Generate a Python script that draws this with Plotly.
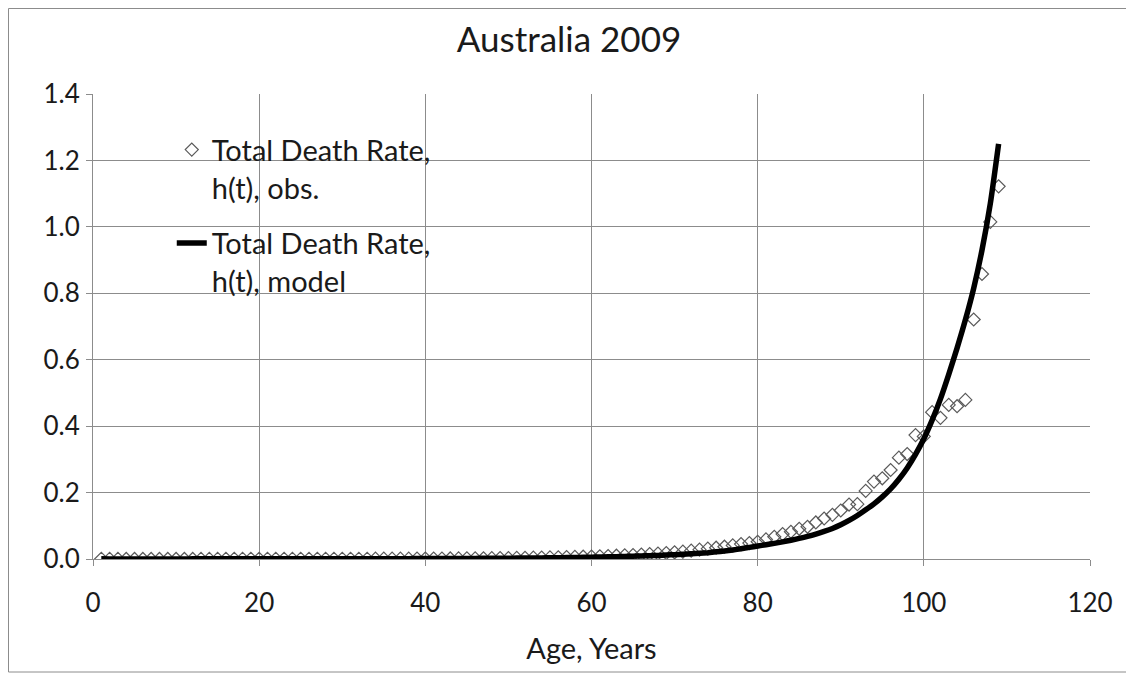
import plotly.graph_objects as go

ages = list(range(1, 110))

obs_rate = [
    0.0005, 0.0003, 0.0002, 0.0001, 0.0001, 0.0001, 0.0001, 0.0001, 0.0001, 0.0001,
    0.0001, 0.0001, 0.0002, 0.0002, 0.0003, 0.0004, 0.0005, 0.0006, 0.0006, 0.0006,
    0.0006, 0.0006, 0.0006, 0.0006, 0.0007, 0.0007, 0.0007, 0.0007, 0.0007, 0.0007,
    0.0008, 0.0008, 0.0008, 0.0009, 0.0009, 0.0010, 0.0011, 0.0011, 0.0012, 0.0013,
    0.0014, 0.0015, 0.0016, 0.0018, 0.0020, 0.0021, 0.0023, 0.0025, 0.0028, 0.0030,
    0.0033, 0.0036, 0.0040, 0.0044, 0.0048, 0.0052, 0.0057, 0.0063, 0.0069, 0.0075,
    0.0082, 0.0090, 0.0099, 0.0110, 0.0120, 0.0133, 0.0147, 0.0163, 0.0180, 0.0200,
    0.0220, 0.0250, 0.0280, 0.0310, 0.0340, 0.0370, 0.0410, 0.0450, 0.0480, 0.0520,
    0.0590, 0.0670, 0.0750, 0.0820, 0.0910, 0.0970, 0.1100, 0.1220, 0.1330, 0.1460,
    0.1640, 0.1650, 0.2050, 0.2330, 0.2430, 0.2680, 0.3050, 0.3160, 0.3730, 0.3690,
    0.4420, 0.4250, 0.4640, 0.4600, 0.4790, 0.7210, 0.8580, 1.0150, 1.1220,
]

model_rate = [
    0.0004, 0.0003, 0.0003, 0.0003, 0.0003, 0.0003, 0.0003, 0.0003, 0.0003, 0.0003,
    0.0003, 0.0004, 0.0004, 0.0004, 0.0005, 0.0005, 0.0005, 0.0005, 0.0005, 0.0005,
    0.0006, 0.0006, 0.0006, 0.0006, 0.0006, 0.0006, 0.0007, 0.0007, 0.0007, 0.0007,
    0.0008, 0.0008, 0.0008, 0.0009, 0.0009, 0.0010, 0.0010, 0.0011, 0.0012, 0.0012,
    0.0013, 0.0014, 0.0015, 0.0016, 0.0017, 0.0018, 0.0020, 0.0021, 0.0023, 0.0025,
    0.0027, 0.0029, 0.0031, 0.0033, 0.0036, 0.0039, 0.0042, 0.0046, 0.0050, 0.0055,
    0.0060, 0.0065, 0.0071, 0.0077, 0.0084, 0.0092, 0.0100, 0.0109, 0.0119, 0.0130,
    0.0142, 0.0155, 0.0172, 0.0190, 0.0215, 0.0240, 0.0272, 0.0310, 0.0350, 0.0390,
    0.0430, 0.0470, 0.0515, 0.0565, 0.0620, 0.0680, 0.0750, 0.0830, 0.0920, 0.1030,
    0.1160, 0.1310, 0.1480, 0.1660, 0.1870, 0.2110, 0.2400, 0.2740, 0.3150, 0.3620,
    0.4180, 0.4820, 0.5560, 0.6350, 0.7200, 0.8150, 0.9300, 1.0700, 1.2500,
]

x_ticks = [0, 20, 40, 60, 80, 100, 120]
y_ticks = [0.0, 0.2, 0.4, 0.6, 0.8, 1.0, 1.2, 1.4]

title_text = "Australia 2009"
x_title = "Age, Years"
obs_name = "Total Death Rate,<br>h(t), obs."
model_name = "Total Death Rate,<br>h(t), model"

FONT = "Lato"
GRID = "#8c8c8c"

fig = go.Figure()
fig.add_trace(go.Scatter(
    x=ages, y=obs_rate, mode="markers", name=obs_name, legendgroup="a",
    marker=dict(symbol="diamond-open", size=10, color="#5a5a5a", line=dict(width=1.2)),
))
fig.add_trace(go.Scatter(
    x=ages, y=model_rate, mode="lines", name=model_name, legendgroup="b",
    line=dict(color="black", width=5.5, shape="spline", smoothing=0.6),
))

fig.update_layout(
    width=1134, height=678,
    margin=dict(l=85, r=52, t=86, b=127),
    paper_bgcolor="white", plot_bgcolor="white",
    font=dict(family=FONT, size=26, color="#1a1a1a"),
    title=dict(text=title_text, x=561 / 1134, xref="container", xanchor="center",
               y=1 - 32 / 678, yref="container", yanchor="middle",
               font=dict(family=FONT, size=35, color="#1a1a1a")),
    showlegend=True,
    legend=dict(x=0.079, y=0.935, xanchor="left", yanchor="top",
                bgcolor="rgba(0,0,0,0)", valign="top", tracegroupgap=15,
                font=dict(family=FONT, size=29, color="#1a1a1a")),
    xaxis=dict(range=[0, 120], tickvals=x_ticks, ticktext=[str(v) for v in x_ticks],
               showgrid=True, gridcolor=GRID, gridwidth=1,
               zeroline=False, showline=True, linecolor=GRID, linewidth=1,
               ticks="outside", ticklen=6, tickcolor=GRID, ticklabelstandoff=15,
               title=dict(text=x_title, standoff=21, font=dict(family=FONT, size=29))),
    yaxis=dict(range=[0, 1.4], tickvals=y_ticks, ticktext=[f"{v:.1f}" for v in y_ticks],
               showgrid=True, gridcolor=GRID, gridwidth=1,
               zeroline=False, showline=True, linecolor=GRID, linewidth=1,
               ticks="outside", ticklen=6, tickcolor=GRID, ticklabelstandoff=1),
)

# outer chart border (figure px -> paper fractions of the plot area)
PL, PT, PW, PH = 85, 86, 997, 465
fig.add_shape(type="rect", xref="paper", yref="paper",
              x0=(0.5 - PL) / PW, x1=(1121 - PL) / PW,
              y0=-(664 - (PT + PH)) / PH, y1=1 + (PT - 0.5) / PH,
              line=dict(color="#8c8c8c", width=1), fillcolor="rgba(0,0,0,0)", layer="below")

fig.write_html("out.html")
